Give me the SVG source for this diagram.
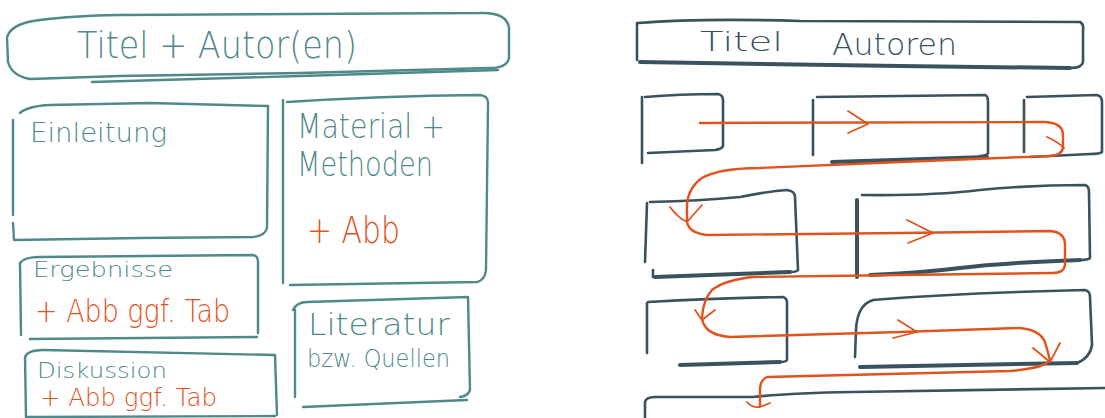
<svg xmlns="http://www.w3.org/2000/svg" width="1105" height="418" viewBox="0 0 1105 418">
  <style>
    .teal { fill: none; stroke: #4f898a; stroke-width: 2.4; stroke-linecap: round; stroke-linejoin: round; }
    .dark { fill: none; stroke: #3a525d; stroke-width: 2.6; stroke-linecap: round; stroke-linejoin: round; }
    .thick { stroke-width: 4; }
    .flow { fill: none; stroke: #e0531c; stroke-width: 2.4; stroke-linecap: round; stroke-linejoin: round; }
    .head { fill: none; stroke: #e0531c; stroke-width: 1.8; stroke-linecap: round; stroke-linejoin: round; }
    text { font-family: "DejaVu Sans", "Liberation Sans", sans-serif; font-weight: 200; }
    .tl { fill: #4f898a; }
    .dk { fill: #3a525d; }
    .or { fill: #e0531c; }
  </style>
  <rect width="1105" height="418" fill="#ffffff"/>

  <!-- left poster: title bar -->
  <g id="title-left">
    <path class="teal" d="M28 22 Q60 16 120 15 L480 13 Q507 12 509 28 L509 58 Q507 68 490 68 L300 73 L120 76 L30 79 Q12 76 8 62 L7 38 Q9 27 28 22"/>
    <path class="teal" d="M92 82 L300 76 L498 70"/>
    <text class="tl" x="77" y="58" font-size="38" textLength="280" lengthAdjust="spacingAndGlyphs">Titel + Autor(en)</text>
  </g>

  <g id="einleitung">
    <path class="teal" d="M20 113 Q28 106 50 105 L150 103 L268 106 L267 228 Q265 236 253 237 L140 238 L15 240"/>
    <path class="teal" d="M13 120 L13 215 M13 223 L14 240"/>
    <text class="tl" x="30" y="142" font-size="26" textLength="137" lengthAdjust="spacingAndGlyphs">Einleitung</text>
  </g>

  <g id="material-methoden">
    <path class="teal" d="M287 102 Q380 96 480 95 Q489 96 488 105 L486 270 Q485 280 477 282 L290 285"/>
    <path class="teal" d="M283 100 L283 283"/>
    <text class="tl" x="297" y="138" font-size="34" textLength="148" lengthAdjust="spacingAndGlyphs">Material +</text>
    <text class="tl" x="297" y="176" font-size="34" textLength="136" lengthAdjust="spacingAndGlyphs">Methoden</text>
    <text class="or" x="307" y="243" font-size="38" textLength="93" lengthAdjust="spacingAndGlyphs">+ Abb</text>
  </g>

  <g id="ergebnisse">
    <path class="teal" d="M20 263 Q24 257 40 257 L253 255 Q258 256 258 262 L258 333"/>
    <path class="teal" d="M30 339 L257 337 M20 263 L21 335"/>
    <text class="tl" x="33" y="277" font-size="22" textLength="140" lengthAdjust="spacingAndGlyphs">Ergebnisse</text>
    <text class="or" x="35" y="322" font-size="32" textLength="195" lengthAdjust="spacingAndGlyphs">+ Abb ggf. Tab</text>
  </g>

  <g id="diskussion">
    <path class="teal" d="M25 357 Q28 350 43 350 L275 355 L277 415"/>
    <path class="teal" d="M25 357 L26 418 M27 417 L275 416"/>
    <text class="tl" x="37" y="378" font-size="21" textLength="130" lengthAdjust="spacingAndGlyphs">Diskussion</text>
    <text class="or" x="40" y="406" font-size="25" textLength="177" lengthAdjust="spacingAndGlyphs">+ Abb ggf. Tab</text>
  </g>

  <g id="literatur">
    <path class="teal" d="M293 310 Q297 302 307 302 L468 297 L470 390 Q468 396 460 397"/>
    <path class="teal" d="M303 407 L467 400 M295 310 L295 397"/>
    <text class="tl" x="308" y="335" font-size="30" textLength="142" lengthAdjust="spacingAndGlyphs">Literatur</text>
    <text class="tl" x="307" y="367" font-size="24" textLength="143" lengthAdjust="spacingAndGlyphs">bzw. Quellen</text>
  </g>

  <!-- right poster: title bar and layout blocks -->
  <g id="title-right">
    <path class="dark" d="M638 23 Q700 18 800 21 L1080 22 Q1084 24 1083 30 L1083 62 Q1082 68 1070 68"/>
    <path class="dark thick" d="M640 62 L900 66 L1070 68"/>
    <path class="dark" d="M637 23 L637 60"/>
    <text class="dk" x="700" y="51" font-size="26" textLength="83" lengthAdjust="spacingAndGlyphs">Titel</text>
    <text class="dk" x="832" y="55" font-size="30" textLength="125" lengthAdjust="spacingAndGlyphs">Autoren</text>
  </g>

  <g id="block-a">
    <path class="dark" d="M645 97 Q680 94 718 94 Q723 95 723 100 L723 146 Q722 149 715 150 L648 153"/>
    <path class="dark" d="M642 97 L642 163"/>
  </g>
  <g id="block-b">
    <path class="dark" d="M817 97 L985 95 Q988 96 988 102 L988 153 Q987 156 980 156 M813 100 L813 155"/>
    <path class="dark thick" d="M832 162 L987 157"/>
  </g>
  <g id="block-c">
    <path class="dark" d="M1027 97 L1097 95 Q1102 96 1102 102 L1102 152 Q1100 154 1090 154 L1030 157 M1024 100 L1024 152"/>
  </g>
  <g id="block-d">
    <path class="dark" d="M650 202 Q700 201 740 197 Q770 191 787 190 Q795 191 795 197 L798 270 Q797 272 790 272"/>
    <path class="dark thick" d="M655 277 L790 272"/>
    <path class="dark" d="M647 203 L645 262 M653 270 L653 277"/>
  </g>
  <g id="block-e">
    <path class="dark thick" d="M857 200 L857 277"/>
    <path class="dark" d="M862 195 Q930 196 980 190 Q1030 185 1085 185 Q1089 186 1089 192 L1090 258 Q1088 260 1080 260"/>
    <path class="dark thick" d="M1080 260 Q1000 263 960 268 Q920 273 870 275"/>
  </g>
  <g id="block-f">
    <path class="dark" d="M648 302 Q720 298 783 297 Q787 298 787 303 L787 360 Q786 362 780 362 M647 303 L647 353"/>
    <path class="dark thick" d="M680 365 L780 362"/>
  </g>
  <g id="block-g">
    <path class="dark" d="M855 357 L856 330 Q857 305 873 300 Q960 293 1085 290 Q1090 291 1090 297 L1092 345 Q1090 358 1077 363"/>
    <path class="dark thick" d="M1077 363 L860 367"/>
  </g>
  <g id="block-h">
    <path class="dark" d="M645 418 L645 402 Q646 397 655 397 L753 397 Q790 393 853 392 L1105 388"/>
  </g>

  <!-- reading order -->
  <g id="connectors">
    <path class="flow" d="M700 123 L1045 122 Q1063 123 1063 135 L1063 148 Q1062 155 1050 156 L900 162 L760 168 Q720 168 702 178 Q688 188 687 205 L687 222 Q689 233 707 235 L900 233 L1050 231 Q1065 232 1065 245 L1065 265 Q1064 273 1053 273 L900 275 L753 277 Q725 280 712 290 Q703 300 702 318 Q704 335 730 337 L900 332 L1020 328 Q1040 330 1045 342 L1050 360 Q1045 368 1010 371 L767 377 Q760 380 760 390 L760 406"/>
    <path class="head" d="M848 111 L868 124 L848 133"/>
    <path class="head" d="M1047 137 Q1058 142 1064 148"/>
    <path class="head" d="M670 207 Q678 218 687 222 L702 205"/>
    <path class="head" d="M907 220 L933 233 L908 243"/>
    <path class="head" d="M695 310 L702 320 L715 310"/>
    <path class="head" d="M898 320 L917 332 L893 338"/>
    <path class="head" d="M1033 348 L1050 362 L1060 343"/>
    <path class="head" d="M747 402 Q752 408 760 407 L770 403"/>
  </g>
</svg>
